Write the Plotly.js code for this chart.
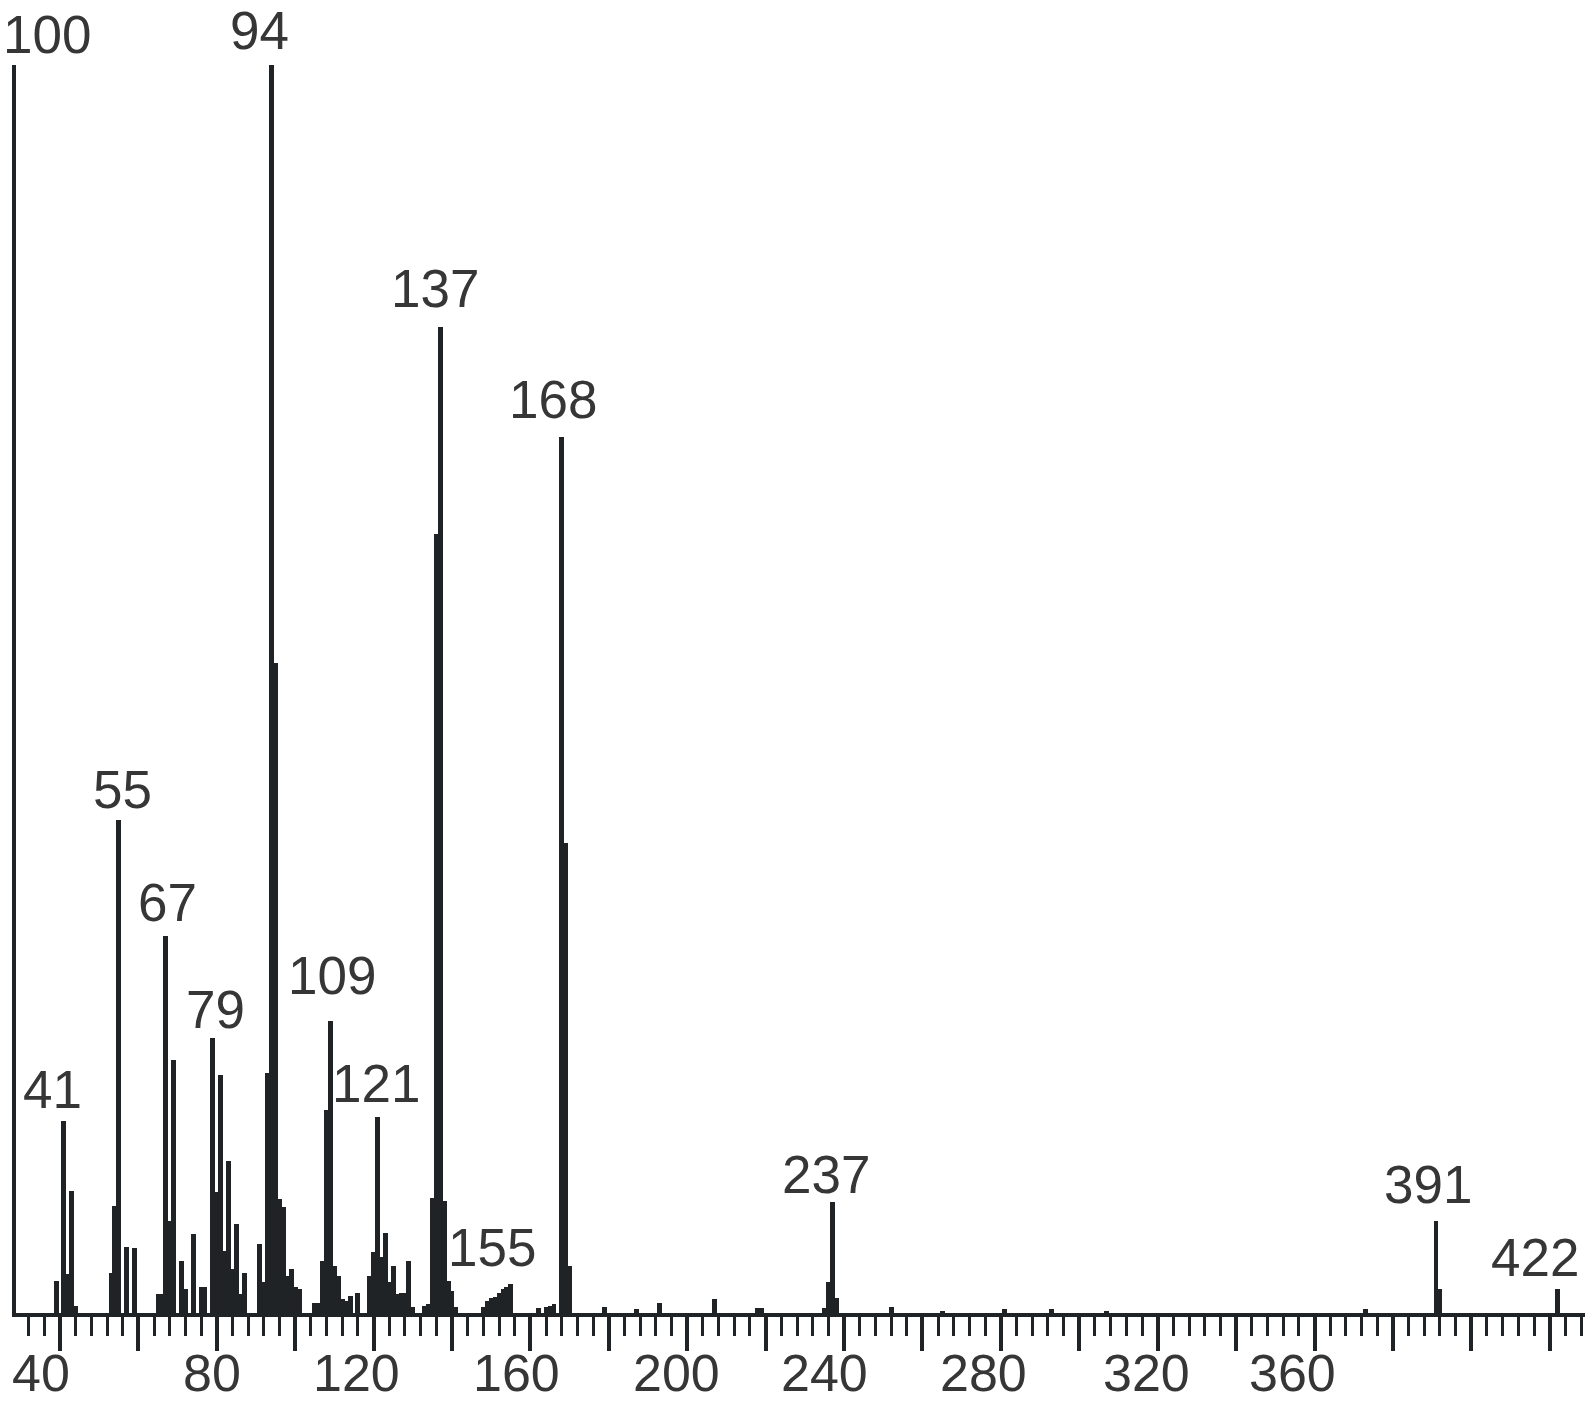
<!DOCTYPE html>
<html>
<head>
<meta charset="utf-8">
<script src="https://cdn.plot.ly/plotly-3.0.1.min.js"></script>
<style>html,body{margin:0;padding:0;background:#fff;}#chart{width:1595px;height:1403px;}</style>
</head>
<body>
<div id="chart"></div>
<script>
// m/z values and relative intensities (%)
const mz = [39,41,42,43,44,
  53,54,55,57,59,
  65,66,67,68,69,71,72,74,76,77,
  79,80,81,82,83,84,85,86,87,
  91,92,93,94,95,96,97,98,99,100,101,
  105,106,107,108,109,110,111,112,113,114,116,
  119,120,121,122,123,124,125,126,127,128,129,130,
  133,134,135,136,137,138,139,140,141,
  148,149,150,151,152,153,154,155,
  162,164,165,166,168,169,170,
  179,187,193,207,218,219,
  235,236,237,238,
  252,265,281,293,307,373,
  391,392,422];
const intensity = [2.6,15.4,3.1,9.8,0.6,
  3.2,8.6,39.5,5.3,5.2,
  1.5,1.5,30.2,7.4,20.3,4.2,1.9,6.3,2.1,2.1,
  22.0,9.7,19.1,5.0,12.2,3.5,7.1,1.5,3.2,
  5.5,2.5,19.2,100,52.1,9.1,8.5,3.0,3.5,2.1,1.9,
  0.8,0.8,4.2,16.3,23.4,3.8,3.0,1.1,1.0,1.4,1.6,
  3.0,4.9,15.7,4.5,6.4,2.5,3.8,1.5,1.6,1.6,4.2,0.5,
  0.6,0.7,9.2,62.4,79.0,9.0,2.6,1.8,0.5,
  0.5,1.0,1.2,1.3,1.6,1.9,2.1,2.3,
  0.4,0.5,0.6,0.7,70.2,37.7,3.8,
  0.5,0.3,0.8,1.1,0.4,0.4,
  0.4,2.5,8.9,1.2,
  0.5,0.2,0.3,0.3,0.2,0.3,
  7.4,1.9,1.9];
// labelled peaks
const labelledMz = [41,55,67,79,94,109,121,137,155,168,237,391,422];
// x-axis ticks
const majorTicks = [40,60,80,100,120,140,160,180,200,220,240,260,280,300,320,340,360,380,400,420];
const tickLabelValues = [40,80,120,160,200,240,280,320,360];
const yTopLabel = '100';

const ink = '#1f2326';
const txt = '#363636';
const fontFam = 'Liberation Sans, Arial, sans-serif';
const fs = 53;

// label offsets in pixels (text centre relative to bar top)
const labelOffset = {
  41:[-11,31], 55:[4,31], 67:[2,34], 79:[3,29], 94:[-12,35], 109:[2,45], 121:[-2,34],
  137:[-5,39], 155:[-19,37], 168:[-9,37], 237:[-6,27], 391:[-8,36], 422:[-23,32]
};
// horizontal offsets of the axis numbers relative to their tick (px)
const tickLabelShift = {40:-19, 80:-5, 120:-17, 160:-14, 200:-11, 240:-20, 280:-17, 320:-11, 360:-22};

const annotations = labelledMz.map(m => {
  const i = mz.indexOf(m);
  const off = labelOffset[m];
  return {x: m, y: intensity[i], xref:'x', yref:'y', text: String(m), showarrow:false,
    xanchor:'center', yanchor:'middle', xshift: off[0], yshift: off[1],
    font:{family:fontFam, size:fs, color:txt}};
});
annotations.push({x:0, y:1, xref:'paper', yref:'paper', text:yTopLabel, showarrow:false,
  xanchor:'center', yanchor:'middle', xshift:31, yshift:31,
  font:{family:fontFam, size:fs, color:txt}});
tickLabelValues.forEach(v => {
  annotations.push({x:v, y:0, xref:'x', yref:'paper', text:String(v), showarrow:false,
    xanchor:'center', yanchor:'middle', xshift: tickLabelShift[v], yshift:-60, borderpad:0,
    font:{family:fontFam, size:52, color:txt}});
});

const trace = {type:'bar', x: mz, y: intensity, width: 1.25,
  marker:{color: ink, line:{width:0}}, hoverinfo:'x+y'};

const layout = {
  width:1595, height:1403,
  margin:{l:16, r:10, t:65, b:90, pad:0},
  paper_bgcolor:'#ffffff', plot_bgcolor:'#ffffff',
  showlegend:false,
  xaxis:{range:[28.78, 429.0], showgrid:false, zeroline:false,
    showline:true, linewidth:4, linecolor:ink,
    tickmode:'array', tickvals: majorTicks, showticklabels:false,
    ticks:'outside', ticklen:34, tickwidth:4, tickcolor:ink,
    minor:{tick0:0, dtick:4, ticks:'outside', ticklen:19, tickwidth:3, tickcolor:ink, showgrid:false}},
  yaxis:{range:[0,100], showgrid:false, zeroline:false, showline:true, linewidth:4, linecolor:ink,
    showticklabels:false, ticks:''},
  annotations: annotations,
  bargap:0
};
Plotly.newPlot('chart', [trace], layout, {displayModeBar:false, staticPlot:true});
</script>
</body>
</html>
